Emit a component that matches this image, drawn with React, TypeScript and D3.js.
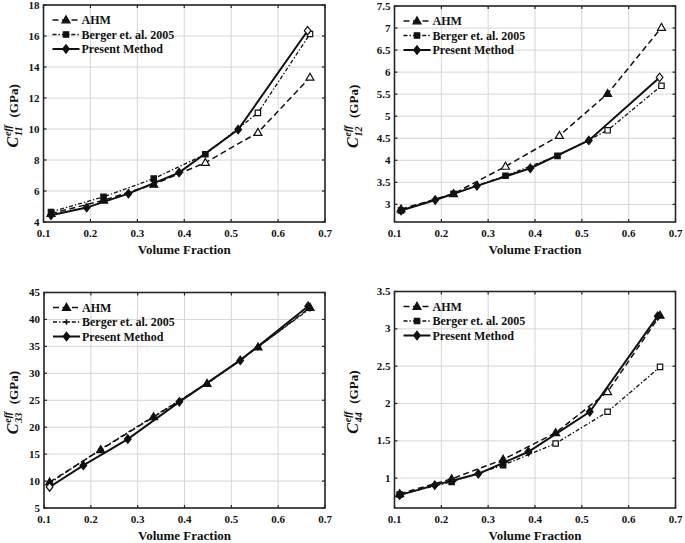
import React from "react";
import * as d3 from "d3";

// ---------- data ----------
const xTicks = [0.1, 0.2, 0.3, 0.4, 0.5, 0.6, 0.7];

// C11
const c11PresentX = [0.116, 0.192, 0.281, 0.389, 0.515, 0.663];
const c11PresentY = [4.43, 4.93, 5.83, 7.19, 9.97, 16.34];
const c11AhmX = [0.116, 0.228, 0.335, 0.445, 0.557, 0.668];
const c11AhmY = [4.54, 5.4, 6.43, 7.83, 9.77, 13.33];
const c11BergerX = [0.116, 0.228, 0.335, 0.445, 0.557, 0.668];
const c11BergerY = [4.65, 5.62, 6.8, 8.37, 11.04, 16.13];
const c11Ticks = [4, 6, 8, 10, 12, 14, 16, 18];

// C12
const c12PresentX = [0.114, 0.187, 0.276, 0.39, 0.515, 0.666];
const c12PresentY = [2.86, 3.1, 3.42, 3.82, 4.45, 5.88];
const c12AhmX = [0.114, 0.226, 0.337, 0.452, 0.555, 0.67];
const c12AhmY = [2.89, 3.24, 3.86, 4.56, 5.51, 7.01];
const c12BergerX = [0.114, 0.226, 0.337, 0.448, 0.555, 0.67];
const c12BergerY = [2.86, 3.24, 3.65, 4.1, 4.68, 5.69];
const c12Ticks = [3, 3.5, 4, 4.5, 5, 5.5, 6, 6.5, 7, 7.5];

// C33
const c33PresentX = [0.112, 0.184, 0.279, 0.389, 0.519, 0.664];
const c33PresentY = [8.9, 12.9, 17.8, 24.7, 32.4, 42.45];
const c33AhmX = [0.112, 0.221, 0.334, 0.448, 0.557, 0.668];
const c33AhmY = [9.8, 15.8, 21.9, 28.1, 34.85, 42.2];
const c33BergerX = [0.112, 0.221, 0.334, 0.448, 0.557, 0.668];
const c33BergerY = [9.6, 15.9, 22.0, 28.1, 34.9, 42.0];
const c33Ticks = [5, 10, 15, 20, 25, 30, 35, 40, 45];

// C44
const c44PresentX = [0.111, 0.186, 0.279, 0.386, 0.517, 0.662];
const c44PresentY = [0.772, 0.906, 1.058, 1.353, 1.889, 3.17];
const c44AhmX = [0.111, 0.222, 0.332, 0.444, 0.555, 0.667];
const c44AhmY = [0.79, 0.99, 1.25, 1.607, 2.156, 3.18];
const c44BergerX = [0.111, 0.222, 0.332, 0.444, 0.555, 0.667];
const c44BergerY = [0.78, 0.95, 1.174, 1.464, 1.889, 2.49];
const c44Ticks = [1, 1.5, 2, 2.5, 3, 3.5];

const legendLabels = ["AHM", "Berger et. al. 2005", "Present Method"];

// ---------- styles ----------
const FONT = "'Liberation Serif', 'Times New Roman', serif";
const INK = "#111";

type Marker = "tri" | "sq" | "dia" | "plus";

function markerPath(kind: Marker, x: number, y: number): string {
  switch (kind) {
    case "tri":
      return `M${x},${y - 4.2}L${x + 4},${y + 2.8}L${x - 4},${y + 2.8}Z`;
    case "sq":
      return `M${x - 2.7},${y - 2.7}h5.4v5.4h-5.4Z`;
    case "dia":
      return `M${x},${y - 4.2}L${x + 3.3},${y}L${x},${y + 4.2}L${x - 3.3},${y}Z`;
    case "plus":
      return `M${x - 2.8},${y}h5.6M${x},${y - 2.8}v5.6`;
  }
}

interface SeriesDef {
  xs: number[];
  ys: number[];
  marker: Marker;
  dash: string;
  width: number;
  open: number[];
}

interface PanelDef {
  left: number;
  right: number;
  top: number;
  bottom: number;
  yDomain: [number, number];
  yTicks: number[];
  sub: string;
  series: SeriesDef[];
  tickBase: number;
  labelBase: number;
  ylabX: number;
}

const AHM_DASH = "6,3.5";
const BER_DASH = "4,2,1.4,2";

function Panel({ p }: { p: PanelDef }) {
  const x = d3.scaleLinear().domain([0.1, 0.7]).range([p.left, p.right]);
  const y = d3.scaleLinear().domain(p.yDomain).range([p.bottom, p.top]);
  const line = d3
    .line<[number, number]>()
    .x((d) => x(d[0]))
    .y((d) => y(d[1]));
  const cy = (p.top + p.bottom) / 2;
  const cx = (p.left + p.right) / 2;
  return (
    <g>
      {/* grid */}
      {xTicks.map((t) => (
        <line key={"gx" + t} x1={x(t)} x2={x(t)} y1={p.top} y2={p.bottom} stroke="#d6d6d6" strokeWidth={1} />
      ))}
      {p.yTicks.map((t) => (
        <line key={"gy" + t} x1={p.left} x2={p.right} y1={y(t)} y2={y(t)} stroke="#d6d6d6" strokeWidth={1} />
      ))}
      {/* series */}
      {p.series.map((s, i) => {
        const pts: [number, number][] = s.xs.map((v, k) => [v, s.ys[k]]);
        return (
          <g key={"s" + i}>
            <path d={line(pts) || ""} fill="none" stroke={INK} strokeWidth={s.width} strokeDasharray={s.dash} />
            {pts.map((d, k) => {
              const isOpen = s.open.includes(k);
              return (
                <path
                  key={k}
                  d={markerPath(s.marker, x(d[0]), y(d[1]))}
                  fill={s.marker === "plus" ? "none" : isOpen ? "#fff" : INK}
                  stroke={INK}
                  strokeWidth={s.marker === "plus" ? 1.6 : 1.2}
                />
              );
            })}
          </g>
        );
      })}
      {/* box */}
      <rect x={p.left} y={p.top} width={p.right - p.left} height={p.bottom - p.top} fill="none" stroke="#262626" strokeWidth={1.6} />
      {/* ticks */}
      {xTicks.map((t) => (
        <g key={"tx" + t}>
          <line x1={x(t)} x2={x(t)} y1={p.bottom} y2={p.bottom - 3} stroke="#262626" strokeWidth={1.2} />
          <line x1={x(t)} x2={x(t)} y1={p.top} y2={p.top + 3} stroke="#262626" strokeWidth={1.2} />
          <text x={x(t)} y={p.tickBase} textAnchor="middle" fontFamily={FONT} fontWeight="bold" fontSize={11} fill={INK}>
            {d3.format(".1f")(t)}
          </text>
        </g>
      ))}
      {p.yTicks.map((t) => (
        <g key={"ty" + t}>
          <line x1={p.left} x2={p.left + 3} y1={y(t)} y2={y(t)} stroke="#262626" strokeWidth={1.2} />
          <line x1={p.right} x2={p.right - 3} y1={y(t)} y2={y(t)} stroke="#262626" strokeWidth={1.2} />
          <text x={p.left - 4} y={y(t)} dy="0.33em" textAnchor="end" fontFamily={FONT} fontWeight="bold" fontSize={11} fill={INK}>
            {String(t)}
          </text>
        </g>
      ))}
      {/* x label */}
      <text x={cx} y={p.labelBase} textAnchor="middle" fontFamily={FONT} fontWeight="bold" fontSize={13} fill={INK}>
        Volume Fraction
      </text>
      {/* y label */}
      <g transform={`translate(${p.ylabX},${cy}) rotate(-90)`} fontFamily={FONT} fontWeight="bold" fill={INK}>
        <text x={-34} y={0} fontSize={16} fontStyle="italic">C</text>
        <text x={-22.5} y={-7} fontSize={10} fontStyle="italic">eff</text>
        <text x={-22.5} y={4} fontSize={10} fontStyle="italic">{p.sub}</text>
        <text x={-4} y={0} fontSize={13}>(GPa)</text>
      </g>
      {/* legend */}
      {p.series.map((s, i) => {
        const ly = p.top + 15 + i * 14.5;
        const lx0 = p.left + 9;
        const lx1 = p.left + 36;
        return (
          <g key={"lg" + i}>
            <line x1={lx0} x2={lx1} y1={ly} y2={ly} stroke={INK} strokeWidth={s.width} strokeDasharray={s.dash} />
            <path
              d={markerPath(s.marker, (lx0 + lx1) / 2, ly)}
              fill={s.marker === "plus" ? "none" : INK}
              stroke={INK}
              strokeWidth={s.marker === "plus" ? 1.6 : 1.2}
            />
            <text x={lx1 + 2} y={ly} dy="0.35em" fontFamily={FONT} fontWeight="bold" fontSize={12} fill={INK}>
              {legendLabels[i]}
            </text>
          </g>
        );
      })}
    </g>
  );
}

function mk(
  ax: number[], ay: number[], bx: number[], by: number[], px: number[], py: number[],
  bMarker: Marker, openA: number[], openB: number[], openP: number[]
): SeriesDef[] {
  return [
    { xs: ax, ys: ay, marker: "tri", dash: AHM_DASH, width: 1.5, open: openA },
    { xs: bx, ys: by, marker: bMarker, dash: BER_DASH, width: 1.3, open: openB },
    { xs: px, ys: py, marker: "dia", dash: "", width: 2, open: openP },
  ];
}

const panels: PanelDef[] = [
  {
    left: 43.5, right: 325, top: 5, bottom: 222, yDomain: [4, 18], yTicks: c11Ticks, sub: "11",
    series: mk(c11AhmX, c11AhmY, c11BergerX, c11BergerY, c11PresentX, c11PresentY, "sq", [3, 4, 5], [4, 5], [5]),
    tickBase: 237, labelBase: 254, ylabX: 18,
  },
  {
    left: 394.5, right: 675.5, top: 6, bottom: 222, yDomain: [2.6, 7.5], yTicks: c12Ticks, sub: "12",
    series: mk(c12AhmX, c12AhmY, c12BergerX, c12BergerY, c12PresentX, c12PresentY, "sq", [2, 3, 5], [4, 5], [5]),
    tickBase: 237, labelBase: 254, ylabX: 358,
  },
  {
    left: 44, right: 325, top: 292.5, bottom: 508, yDomain: [5, 45], yTicks: c33Ticks, sub: "33",
    series: mk(c33AhmX, c33AhmY, c33BergerX, c33BergerY, c33PresentX, c33PresentY, "plus", [], [], [0]),
    tickBase: 522.5, labelBase: 540, ylabX: 18,
  },
  {
    left: 394.5, right: 675.5, top: 291.5, bottom: 508, yDomain: [0.6, 3.5], yTicks: c44Ticks, sub: "44",
    series: mk(c44AhmX, c44AhmY, c44BergerX, c44BergerY, c44PresentX, c44PresentY, "sq", [4], [3, 4, 5], []),
    tickBase: 523, labelBase: 540, ylabX: 358,
  },
];

export default function App() {
  return (
    <svg width={685} height={543} style={{ position: "absolute", left: 0, top: 0, background: "#fff" }}>
      <rect width={685} height={543} fill="#fff" />
      {panels.map((p, i) => (
        <Panel key={i} p={p} />
      ))}
    </svg>
  );
}
